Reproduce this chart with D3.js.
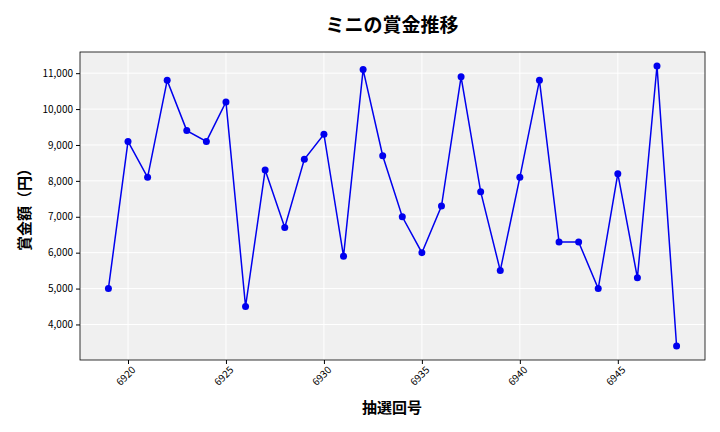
<!DOCTYPE html>
<html><head><meta charset="utf-8">
<script src="https://cdn.jsdelivr.net/npm/d3@7"></script>
<style>body{margin:0;background:#fff}text{font-family:"Noto Sans CJK JP","Noto Sans",sans-serif}</style>
</head><body><div id="chart"></div>
<script>
var draws = d3.range(6919, 6949);
var prizes = [5000,9100,8100,10800,9400,9100,10200,4500,8300,6700,8600,9300,5900,11100,8700,7000,6000,7300,10900,7700,5500,8100,10800,6300,6300,5000,8200,5300,11200,3400];
var xTicks = [6920,6925,6930,6935,6940,6945];
var yTicks = [4000,5000,6000,7000,8000,9000,10000,11000];

var margin = {top: 52, right: 15, bottom: 72, left: 80};
var width = 720 - margin.left - margin.right;
var height = 432 - margin.top - margin.bottom;

var svg = d3.select("#chart").append("svg").attr("width", 720).attr("height", 432);
var g = svg.append("g").attr("transform", "translate(" + margin.left + "," + margin.top + ")");

var x = d3.scaleLinear().domain([6917.55, 6949.45]).range([0, width]);
var y = d3.scaleLinear().domain([3010, 11590]).range([height, 0]);

g.append("rect").attr("width", width).attr("height", height).attr("fill", "#f0f0f0");
g.selectAll(".gx").data(xTicks).enter().append("line")
  .attr("x1", d => x(d)).attr("x2", d => x(d)).attr("y1", 0).attr("y2", height)
  .attr("stroke", "#fff").attr("stroke-width", 1);
g.selectAll(".gy").data(yTicks).enter().append("line")
  .attr("y1", d => y(d)).attr("y2", d => y(d)).attr("x1", 0).attr("x2", width)
  .attr("stroke", "#fff").attr("stroke-width", 1);
g.append("rect").attr("width", width).attr("height", height).attr("fill", "none").attr("stroke", "#000").attr("stroke-width", 0.8);

var xa = g.append("g").attr("transform", "translate(0," + height + ")")
  .call(d3.axisBottom(x).tickValues(xTicks).tickFormat(d3.format("d")).tickSize(4));
xa.selectAll("text").attr("transform", "rotate(-45)").style("text-anchor", "end")
  .attr("dx", "-0.2em").attr("dy", "0.6em").style("font-size", "10px");
var ya = g.append("g").call(d3.axisLeft(y).tickValues(yTicks).tickFormat(d3.format(",")).tickSize(4));
ya.selectAll("text").style("font-size", "10px");
g.selectAll(".domain").remove();

var line = d3.line().x((d, i) => x(draws[i])).y(d => y(d));
g.append("path").datum(prizes).attr("d", line).attr("fill", "none").attr("stroke", "#0000ee").attr("stroke-width", 1.5);
g.selectAll(".pt").data(prizes).enter().append("circle")
  .attr("cx", (d, i) => x(draws[i])).attr("cy", d => y(d)).attr("r", 3.5).attr("fill", "#0000ee");

svg.append("text").attr("x", 392).attr("y", 32).attr("text-anchor", "middle")
  .style("font-size", "19px").style("font-weight", "bold").text("ミニの賞金推移");
svg.append("text").attr("x", 392).attr("y", 413).attr("text-anchor", "middle")
  .style("font-size", "15px").style("font-weight", "bold").text("抽選回号");
svg.append("text").attr("transform", "translate(30," + (margin.top + height / 2) + ") rotate(-90)")
  .attr("text-anchor", "middle").style("font-size", "15px").style("font-weight", "bold").text("賞金額（円）");
</script></body></html>
